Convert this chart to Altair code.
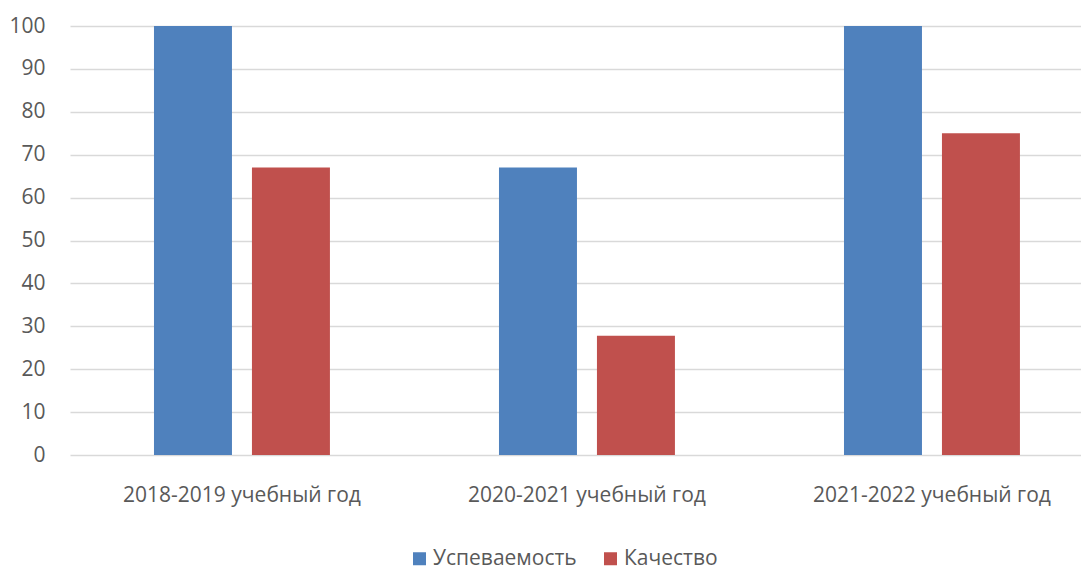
import altair as alt
import pandas as pd

categories = ["2018-2019 учебный год", "2020-2021 учебный год", "2021-2022 учебный год"]
series = ["Успеваемость", "Качество"]
uspev = [100, 67, 100]
kach = [67, 27.8, 75]
colors = ["#4F81BD", "#C0504D"]

rows = []
for c, a, b in zip(categories, uspev, kach):
    rows.append({"cat": c, "s": series[0], "v": a})
    rows.append({"cat": c, "s": series[1], "v": b})
df = pd.DataFrame(rows)

FONT = "Open Sans"
TXT = "#595959"
FS = 21

chart = alt.Chart(df).mark_bar().encode(
    x=alt.X("cat:N", sort=categories, title=None,
            scale=alt.Scale(paddingInner=0.49, paddingOuter=0.2102, align=0.579),
            axis=alt.Axis(labelAngle=0, ticks=False, domain=False, labelPadding=29, labelLimit=0,
                          labelFontSize=FS, labelFont=FONT, labelColor=TXT)),
    xOffset=alt.XOffset("s:N", sort=series, scale=alt.Scale(paddingInner=0.204)),
    y=alt.Y("v:Q", title=None,
            scale=alt.Scale(domain=[0, 100], nice=False),
            axis=alt.Axis(values=list(range(0, 101, 10)), ticks=False, domain=False,
                          labelPadding=25, labelFontSize=FS, labelFont=FONT, labelColor=TXT,
                          gridColor="#D9D9D9", gridWidth=1.3)),
    color=alt.Color("s:N", sort=series, title=None,
                    scale=alt.Scale(domain=series, range=colors),
                    legend=alt.Legend(orient="none", legendX=339, legendY=522, direction="horizontal",
                                      symbolType="square", symbolSize=169, symbolStrokeWidth=0,
                                      labelFontSize=FS, labelFont=FONT, labelColor=TXT,
                                      labelOffset=3, columnPadding=23)),
).properties(
    width=1011, height=429,
    padding={"left": 62, "top": 18, "right": 0, "bottom": 125},
    autosize=alt.AutoSizeParams(type="none"),
).configure_view(stroke=None)

chart.save("out.html", embed_options={"renderer": "svg", "actions": False})
